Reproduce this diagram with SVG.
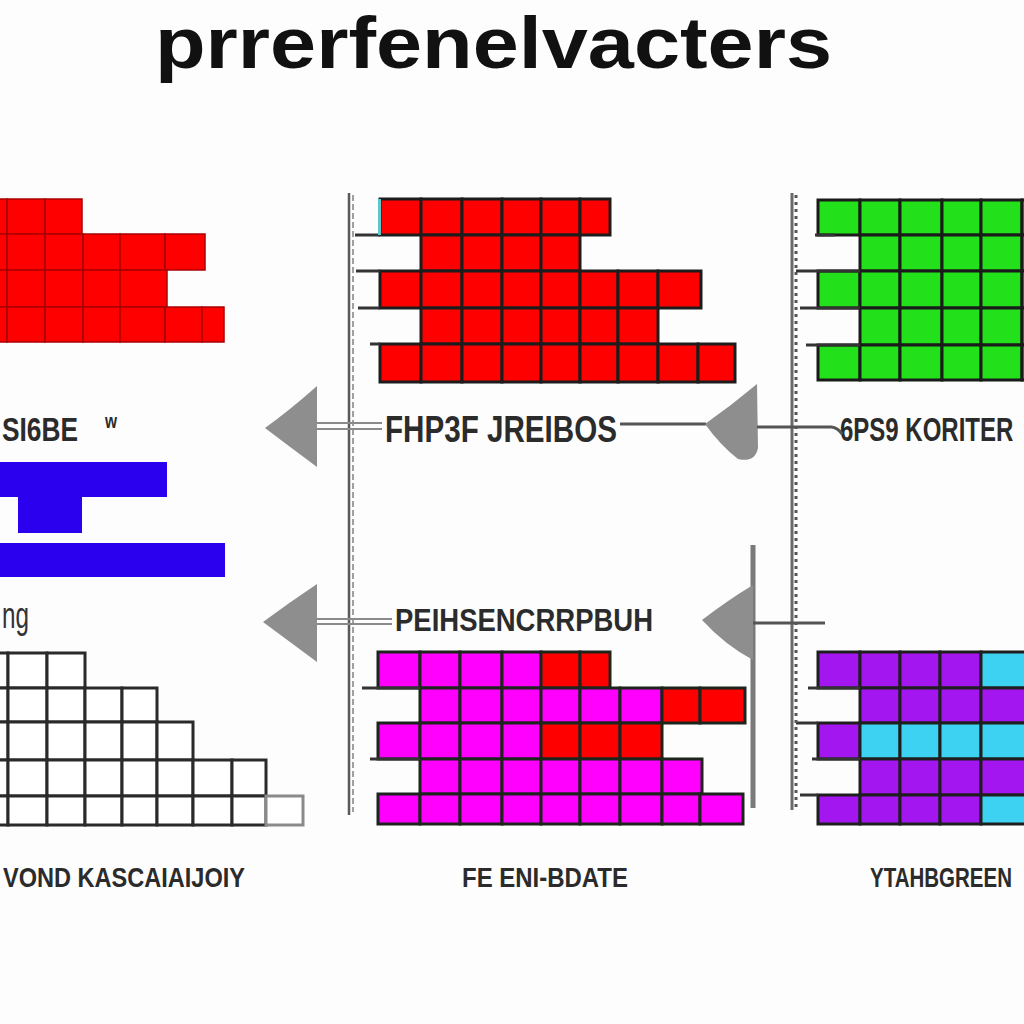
<svg xmlns="http://www.w3.org/2000/svg" width="1024" height="1024" viewBox="0 0 1024 1024">
<style>
.r{fill:#ff0000;stroke:#a80000;stroke-width:1.5}
.rd{fill:#ff0000;stroke:#1c1c1c;stroke-width:3}
.g{fill:#22e01a;stroke:#1a1a1a;stroke-width:3}
.m{fill:#ff00ff;stroke:#1c241c;stroke-width:3}
.mr{fill:#ff0000;stroke:#1c241c;stroke-width:3}
.p{fill:#a416f0;stroke:#1e1e1e;stroke-width:3}
.c{fill:#3ed2f2;stroke:#1e1e1e;stroke-width:3}
.o{fill:#ffffff;stroke:#2a2a2a;stroke-width:3}
.b{fill:#2a00ee}
.lbl{font-family:"Liberation Sans",Arial,sans-serif;font-weight:700;fill:#2b2b2b}
.arr{fill:#8e8e8e}
.ln{stroke:#8a8a8a;stroke-width:2;fill:none}
.lnd{stroke:#555;stroke-width:3;fill:none}
.tick{stroke:#333;stroke-width:3}
</style>
<rect x="0" y="0" width="1024" height="1024" fill="#fdfdfd"/>

<g id="title">
<text x="155" y="68" font-family="Liberation Sans,Arial,sans-serif" font-weight="700" font-size="72" fill="#111" textLength="677" lengthAdjust="spacingAndGlyphs">prrerfenelvacters</text>
</g>

<g id="panel-red-left">
<rect class="r" x="-10" y="199" width="17" height="35"/><rect class="r" x="7" y="199" width="38" height="35"/><rect class="r" x="45" y="199" width="37" height="35"/>
<rect class="r" x="-10" y="234" width="17" height="36"/><rect class="r" x="7" y="234" width="38" height="36"/><rect class="r" x="45" y="234" width="38" height="36"/><rect class="r" x="83" y="234" width="37" height="36"/><rect class="r" x="120" y="234" width="45" height="36"/><rect class="r" x="165" y="234" width="40" height="36"/>
<rect class="r" x="-10" y="270" width="17" height="37"/><rect class="r" x="7" y="270" width="38" height="37"/><rect class="r" x="45" y="270" width="38" height="37"/><rect class="r" x="83" y="270" width="37" height="37"/><rect class="r" x="120" y="270" width="47" height="37"/>
<rect class="r" x="-10" y="307" width="17" height="35"/><rect class="r" x="7" y="307" width="38" height="35"/><rect class="r" x="45" y="307" width="38" height="35"/><rect class="r" x="83" y="307" width="37" height="35"/><rect class="r" x="120" y="307" width="45" height="35"/><rect class="r" x="165" y="307" width="37" height="35"/><rect class="r" x="202" y="307" width="22" height="35"/>
</g>

<g id="label-left-top">
<text class="lbl" x="2" y="441" font-size="34" textLength="88" lengthAdjust="spacingAndGlyphs">SI6BE<tspan x="105" y="428" font-size="20">w</tspan></text>
</g>

<g id="shape-blue">
<rect class="b" x="-5" y="462" width="172" height="35"/>
<rect class="b" x="18" y="497" width="64" height="36"/>
<rect class="b" x="-5" y="543" width="230" height="34"/>
</g>

<g id="label-left-mid">
<text x="2" y="628" font-family="Liberation Sans,Arial,sans-serif" font-size="36" fill="#333" textLength="27" lengthAdjust="spacingAndGlyphs">ng</text>
</g>

<g id="panel-outline">
<rect class="o" x="-10" y="653" width="18" height="35"/><rect class="o" x="8" y="653" width="39" height="35"/><rect class="o" x="47" y="653" width="38" height="35"/>
<rect class="o" x="-10" y="688" width="18" height="34"/><rect class="o" x="8" y="688" width="39" height="34"/><rect class="o" x="47" y="688" width="38" height="34"/><rect class="o" x="85" y="688" width="37" height="34"/><rect class="o" x="122" y="688" width="35" height="34"/>
<rect class="o" x="-10" y="722" width="18" height="38"/><rect class="o" x="8" y="722" width="39" height="38"/><rect class="o" x="47" y="722" width="38" height="38"/><rect class="o" x="85" y="722" width="37" height="38"/><rect class="o" x="122" y="722" width="35" height="38"/><rect class="o" x="157" y="722" width="36" height="38"/>
<rect class="o" x="-10" y="760" width="18" height="36"/><rect class="o" x="8" y="760" width="39" height="36"/><rect class="o" x="47" y="760" width="38" height="36"/><rect class="o" x="85" y="760" width="37" height="36"/><rect class="o" x="122" y="760" width="35" height="36"/><rect class="o" x="157" y="760" width="36" height="36"/><rect class="o" x="193" y="760" width="39" height="36"/><rect class="o" x="232" y="760" width="34" height="36"/>
<rect class="o" x="-10" y="796" width="18" height="29"/><rect class="o" x="8" y="796" width="39" height="29"/><rect class="o" x="47" y="796" width="38" height="29"/><rect class="o" x="85" y="796" width="37" height="29"/><rect class="o" x="122" y="796" width="35" height="29"/><rect class="o" x="157" y="796" width="36" height="29"/><rect class="o" x="193" y="796" width="39" height="29"/><rect class="o" x="232" y="796" width="34" height="29"/>
<rect x="266" y="796" width="37" height="29" fill="#fff" stroke="#8a8a8a" stroke-width="3"/>
</g>

<g id="label-left-bottom">
<text class="lbl" x="3" y="887" font-size="28" textLength="242" lengthAdjust="spacingAndGlyphs">VOND KASCAIAIJOIY</text>
</g>

<g id="panel-red-mid">
<rect class="rd" x="380" y="199" width="41" height="36"/><rect class="rd" x="421" y="199" width="41" height="36"/><rect class="rd" x="462" y="199" width="40" height="36"/><rect class="rd" x="502" y="199" width="39" height="36"/><rect class="rd" x="541" y="199" width="39" height="36"/><rect class="rd" x="580" y="199" width="30" height="36"/>
<rect class="rd" x="421" y="235" width="41" height="36"/><rect class="rd" x="462" y="235" width="40" height="36"/><rect class="rd" x="502" y="235" width="39" height="36"/><rect class="rd" x="541" y="235" width="39" height="36"/>
<rect class="rd" x="380" y="271" width="41" height="37"/><rect class="rd" x="421" y="271" width="41" height="37"/><rect class="rd" x="462" y="271" width="40" height="37"/><rect class="rd" x="502" y="271" width="39" height="37"/><rect class="rd" x="541" y="271" width="39" height="37"/><rect class="rd" x="580" y="271" width="38" height="37"/><rect class="rd" x="618" y="271" width="40" height="37"/><rect class="rd" x="658" y="271" width="43" height="37"/>
<rect class="rd" x="421" y="308" width="41" height="36"/><rect class="rd" x="462" y="308" width="40" height="36"/><rect class="rd" x="502" y="308" width="39" height="36"/><rect class="rd" x="541" y="308" width="39" height="36"/><rect class="rd" x="580" y="308" width="38" height="36"/><rect class="rd" x="618" y="308" width="40" height="36"/>
<rect class="rd" x="380" y="344" width="41" height="38"/><rect class="rd" x="421" y="344" width="41" height="38"/><rect class="rd" x="462" y="344" width="40" height="38"/><rect class="rd" x="502" y="344" width="39" height="38"/><rect class="rd" x="541" y="344" width="39" height="38"/><rect class="rd" x="580" y="344" width="38" height="38"/><rect class="rd" x="618" y="344" width="40" height="38"/><rect class="rd" x="658" y="344" width="40" height="38"/><rect class="rd" x="698" y="344" width="37" height="38"/>
<line class="tick" x1="355" y1="235" x2="380" y2="235"/><line class="tick" x1="356" y1="271" x2="380" y2="271"/><line class="tick" x1="358" y1="308" x2="380" y2="308"/><line class="tick" x1="370" y1="344" x2="380" y2="344"/>
<rect x="378" y="199" width="3" height="36" fill="#5cc8c8"/>
</g>

<g id="label-mid-top">
<text class="lbl" x="385" y="442" font-size="36" textLength="232" lengthAdjust="spacingAndGlyphs">FHP3F JREIBOS</text>
</g>

<g id="label-mid-mid">
<text class="lbl" x="395" y="631" font-size="32" textLength="258" lengthAdjust="spacingAndGlyphs">PEIHSENCRRPBUH</text>
</g>

<g id="panel-magenta">
<rect class="m" x="378" y="652" width="42" height="36"/><rect class="m" x="420" y="652" width="40" height="36"/><rect class="m" x="460" y="652" width="42" height="36"/><rect class="m" x="502" y="652" width="39" height="36"/><rect class="mr" x="541" y="652" width="39" height="36"/><rect class="mr" x="580" y="652" width="30" height="36"/>
<rect class="m" x="420" y="688" width="40" height="35"/><rect class="m" x="460" y="688" width="42" height="35"/><rect class="m" x="502" y="688" width="39" height="35"/><rect class="m" x="541" y="688" width="39" height="35"/><rect class="m" x="580" y="688" width="40" height="35"/><rect class="m" x="620" y="688" width="42" height="35"/><rect class="mr" x="662" y="688" width="38" height="35"/><rect class="mr" x="700" y="688" width="45" height="35"/>
<rect class="m" x="378" y="723" width="42" height="36"/><rect class="m" x="420" y="723" width="40" height="36"/><rect class="m" x="460" y="723" width="42" height="36"/><rect class="m" x="502" y="723" width="39" height="36"/><rect class="mr" x="541" y="723" width="39" height="36"/><rect class="mr" x="580" y="723" width="40" height="36"/><rect class="mr" x="620" y="723" width="42" height="36"/>
<rect class="m" x="420" y="759" width="40" height="35"/><rect class="m" x="460" y="759" width="42" height="35"/><rect class="m" x="502" y="759" width="39" height="35"/><rect class="m" x="541" y="759" width="39" height="35"/><rect class="m" x="580" y="759" width="40" height="35"/><rect class="m" x="620" y="759" width="42" height="35"/><rect class="m" x="662" y="759" width="40" height="35"/>
<rect class="m" x="378" y="794" width="42" height="30"/><rect class="m" x="420" y="794" width="40" height="30"/><rect class="m" x="460" y="794" width="42" height="30"/><rect class="m" x="502" y="794" width="39" height="30"/><rect class="m" x="541" y="794" width="39" height="30"/><rect class="m" x="580" y="794" width="40" height="30"/><rect class="m" x="620" y="794" width="42" height="30"/><rect class="m" x="662" y="794" width="38" height="30"/><rect class="m" x="700" y="794" width="43" height="30"/>
<line class="tick" x1="362" y1="688" x2="420" y2="688"/><line class="tick" x1="370" y1="759" x2="420" y2="759"/>
</g>

<g id="label-mid-bottom">
<text class="lbl" x="462" y="887" font-size="28" textLength="166" lengthAdjust="spacingAndGlyphs">FE ENI-BDATE</text>
</g>

<g id="panel-green">
<rect class="g" x="818" y="200" width="42" height="35"/><rect class="g" x="860" y="200" width="40" height="35"/><rect class="g" x="900" y="200" width="42" height="35"/><rect class="g" x="942" y="200" width="39" height="35"/><rect class="g" x="981" y="200" width="41" height="35"/><rect class="g" x="1022" y="200" width="40" height="35"/>
<rect class="g" x="860" y="235" width="40" height="36"/><rect class="g" x="900" y="235" width="42" height="36"/><rect class="g" x="942" y="235" width="39" height="36"/><rect class="g" x="981" y="235" width="41" height="36"/><rect class="g" x="1022" y="235" width="40" height="36"/>
<rect class="g" x="818" y="271" width="42" height="37"/><rect class="g" x="860" y="271" width="40" height="37"/><rect class="g" x="900" y="271" width="42" height="37"/><rect class="g" x="942" y="271" width="39" height="37"/><rect class="g" x="981" y="271" width="41" height="37"/><rect class="g" x="1022" y="271" width="40" height="37"/>
<rect class="g" x="860" y="308" width="40" height="37"/><rect class="g" x="900" y="308" width="42" height="37"/><rect class="g" x="942" y="308" width="39" height="37"/><rect class="g" x="981" y="308" width="41" height="37"/><rect class="g" x="1022" y="308" width="40" height="37"/>
<rect class="g" x="818" y="345" width="42" height="35"/><rect class="g" x="860" y="345" width="40" height="35"/><rect class="g" x="900" y="345" width="42" height="35"/><rect class="g" x="942" y="345" width="39" height="35"/><rect class="g" x="981" y="345" width="41" height="35"/><rect class="g" x="1022" y="345" width="40" height="35"/>
<line class="tick" x1="815" y1="235" x2="835" y2="235"/><line class="tick" x1="796" y1="271" x2="860" y2="271"/><line class="tick" x1="800" y1="308" x2="860" y2="308"/><line class="tick" x1="806" y1="345" x2="860" y2="345"/>
</g>

<g id="label-right-top">
<text class="lbl" transform="translate(840,441) scale(1,1.4)" x="0" y="0" font-size="24">6PS9 KORITER</text>
</g>

<g id="panel-purple">
<rect class="p" x="818" y="652" width="42" height="36"/><rect class="p" x="860" y="652" width="40" height="36"/><rect class="p" x="900" y="652" width="40" height="36"/><rect class="p" x="940" y="652" width="41" height="36"/><rect class="c" x="981" y="652" width="50" height="36"/>
<rect class="p" x="860" y="688" width="40" height="35"/><rect class="p" x="900" y="688" width="40" height="35"/><rect class="p" x="940" y="688" width="41" height="35"/><rect class="p" x="981" y="688" width="50" height="35"/>
<rect class="p" x="818" y="723" width="42" height="36"/><rect class="c" x="860" y="723" width="40" height="36"/><rect class="c" x="900" y="723" width="40" height="36"/><rect class="c" x="940" y="723" width="41" height="36"/><rect class="c" x="981" y="723" width="50" height="36"/>
<rect class="p" x="860" y="759" width="40" height="36"/><rect class="p" x="900" y="759" width="40" height="36"/><rect class="p" x="940" y="759" width="41" height="36"/><rect class="p" x="981" y="759" width="50" height="36"/>
<rect class="p" x="818" y="795" width="42" height="29"/><rect class="p" x="860" y="795" width="40" height="29"/><rect class="p" x="900" y="795" width="40" height="29"/><rect class="p" x="940" y="795" width="41" height="29"/><rect class="c" x="981" y="795" width="50" height="29"/>
<line class="tick" x1="808" y1="688" x2="860" y2="688"/><line class="tick" x1="796" y1="723" x2="818" y2="723"/><line class="tick" x1="812" y1="759" x2="860" y2="759"/><line class="tick" x1="800" y1="795" x2="818" y2="795"/>
</g>

<g id="label-right-bottom">
<text class="lbl" transform="translate(870,887) scale(1,1.35)" x="0" y="0" font-size="20.5">YTAHBGREEN</text>
</g>

<g id="connectors">
<line x1="349" y1="193" x2="349" y2="815" stroke="#5a5a5a" stroke-width="2.5"/>
<line x1="353" y1="195" x2="353" y2="812" stroke="#a0a0a0" stroke-width="2" stroke-dasharray="6 3"/>
<line x1="792" y1="193" x2="792" y2="810" stroke="#6a6a6a" stroke-width="3"/>
<line x1="796" y1="195" x2="796" y2="808" stroke="#555" stroke-width="3" stroke-dasharray="3 4"/>
<line x1="753" y1="545" x2="753" y2="808" stroke="#7a7a7a" stroke-width="5"/>

<path class="arr" d="M265 428 Q290 410 317 386 L317 467 Q290 447 265 428 Z"/>
<line class="ln" x1="317" y1="423" x2="382" y2="423"/>
<line class="ln" x1="317" y1="429" x2="382" y2="429"/>

<path class="arr" d="M263 622 Q290 602 317 584 L317 662 Q290 642 263 622 Z"/>
<line class="ln" x1="317" y1="619" x2="392" y2="619"/>
<line class="ln" x1="317" y1="624" x2="392" y2="624"/>

<line class="lnd" x1="620" y1="424" x2="706" y2="424"/>
<path class="arr" d="M705 424 Q732 405 757 384 L758 448 Q755 463 738 459 Q720 445 705 424 Z"/>
<line class="lnd" x1="757" y1="427" x2="832" y2="427"/>
<path class="lnd" d="M832 427 Q838 428 842 434"/>

<path class="arr" d="M702 620 Q728 600 753 585 L753 660 Q725 645 702 620 Z"/>
<line class="lnd" x1="753" y1="623" x2="825" y2="623"/>
</g>
</svg>
